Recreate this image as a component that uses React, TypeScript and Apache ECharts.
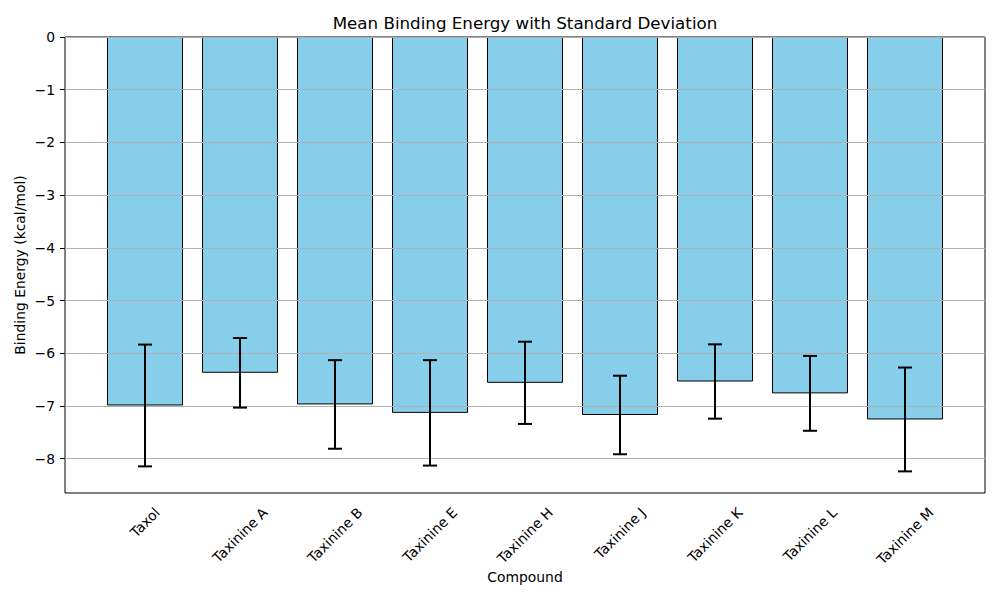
import React, { useEffect, useRef } from 'react';
import * as echarts from 'echarts';

const compounds = ['Taxol', 'Taxinine A', 'Taxinine B', 'Taxinine E', 'Taxinine H', 'Taxinine J', 'Taxinine K', 'Taxinine L', 'Taxinine M'];
const meanEnergy = [-6.99, -6.37, -6.97, -7.13, -6.56, -7.17, -6.535, -6.76, -7.255];
const stdEnergy = [1.155, 0.66, 0.84, 1.0, 0.78, 0.745, 0.705, 0.71, 0.985];
const yTicks = [0, -1, -2, -3, -4, -5, -6, -7, -8];
const yMin = -8.65;
const yMax = 0;

const FONT = 'DejaVu Sans';
const FS = 13.9;

function measure(text: string): number {
  const c = document.createElement('canvas');
  const ctx = c.getContext('2d');
  if (!ctx) return text.length * 7.5;
  ctx.font = `${FS}px "${FONT}"`;
  return ctx.measureText(text).width;
}

const fmt = (v: number) => (v < 0 ? '\u2212' + Math.abs(v) : String(v));

export default function App() {
  const ref = useRef<HTMLDivElement>(null);
  useEffect(() => {
    if (!ref.current) return;
    const chart = echarts.init(ref.current, null, { renderer: 'svg' });
    // Rotated labels: place each label so that its rotated bounding box is centred on its tick
    const catData = compounds.map((c) => {
      const w = measure(c);
      return {
        value: c,
        textStyle: {
          align: 'center',
          verticalAlign: 'top',
          lineHeight: w / 2,
          padding: [0, w / 2, 0, 0],
          fontSize: FS,
          fontFamily: FONT,
          color: '#000',
        },
      };
    });
    const errData = compounds.map((c, i) => [i, meanEnergy[i], stdEnergy[i]]);
    const L = 65, R = 15, T = 37, B = 107;
    const bandPad = 32.5;
    chart.setOption({
      animation: false,
      textStyle: { fontFamily: FONT },
      title: {
        text: 'Mean Binding Energy with Standard Deviation',
        left: 525,
        top: 14,
        padding: 0,
        textAlign: 'center',
        textStyle: { fontFamily: FONT, fontSize: 16.7, fontWeight: 'normal', color: '#000' },
      },
      grid: [
        { left: L + bandPad, right: R + bandPad, top: T, bottom: B, containLabel: false, outerBoundsMode: 'none' },
        { left: L, right: R, top: T, bottom: B, containLabel: false, outerBoundsMode: 'none', show: true, borderColor: '#000', borderWidth: 1, backgroundColor: 'transparent' },
      ],
      xAxis: [
        {
          type: 'category',
          gridIndex: 0,
          data: catData,
          boundaryGap: true,
          axisLine: { show: false },
          axisTick: { show: true, alignWithLabel: true, length: 5, lineStyle: { color: '#000', width: 1 } },
          axisLabel: {
            interval: 0,
            rotate: 45,
            align: 'center',
            verticalAlign: 'top',
            margin: 17,
            hideOverlap: false,
            fontSize: FS,
            fontFamily: FONT,
            color: '#000',
          },
          splitLine: { show: false },
          name: 'Compound',
          nameLocation: 'middle',
          nameGap: 77,
          nameMoveOverlap: false,
          nameTextStyle: { fontSize: FS, fontFamily: FONT, color: '#000' },
        },
        { type: 'value', gridIndex: 1, show: false, min: 0, max: 1 },
      ],
      yAxis: [
        { type: 'value', gridIndex: 0, min: yMin, max: yMax, show: false },
        {
          type: 'value',
          gridIndex: 1,
          min: yMin,
          max: yMax,
          splitNumber: 9,
          z: 3,
          axisLine: { show: false },
          axisTick: { show: true, length: 5, lineStyle: { color: '#000', width: 1 }, customValues: yTicks },
          axisLabel: {
            customValues: yTicks,
            formatter: (v: number) => fmt(v),
            margin: 10,
            fontSize: FS,
            fontFamily: FONT,
            color: '#000',
          },
          splitLine: { show: true, lineStyle: { color: '#b0b0b0', width: 1 } },
          name: 'Binding Energy (kcal/mol)',
          nameLocation: 'middle',
          nameGap: 38,
          nameMoveOverlap: false,
          nameTextStyle: { fontSize: FS, fontFamily: FONT, color: '#000' },
        },
      ],
      series: [
        {
          type: 'bar',
          xAxisIndex: 0,
          yAxisIndex: 0,
          data: meanEnergy,
          barWidth: '80%',
          z: 2,
          itemStyle: { color: '#87CEEB', borderColor: '#000', borderWidth: 1 },
        },
        {
          type: 'custom',
          xAxisIndex: 0,
          yAxisIndex: 0,
          z: 5,
          clip: false,
          encode: { x: 0, y: 1 },
          data: errData,
          renderItem: (params: any, api: any) => {
            const i = api.value(0);
            const m = api.value(1);
            const s = api.value(2);
            const top = api.coord([i, m + s]);
            const bot = api.coord([i, m - s]);
            const cap = 7;
            const style = { stroke: '#000', lineWidth: 2 };
            return {
              type: 'group',
              children: [
                { type: 'line', shape: { x1: top[0], y1: top[1], x2: bot[0], y2: bot[1] }, style },
                { type: 'line', shape: { x1: top[0] - cap, y1: top[1], x2: top[0] + cap, y2: top[1] }, style },
                { type: 'line', shape: { x1: bot[0] - cap, y1: bot[1], x2: bot[0] + cap, y2: bot[1] }, style },
              ],
            };
          },
        },
      ],
    });
    return () => chart.dispose();
  }, []);
  return <div ref={ref} style={{ position: 'fixed', left: 0, top: 0, width: 1000, height: 600, background: '#fff' }} />;
}
